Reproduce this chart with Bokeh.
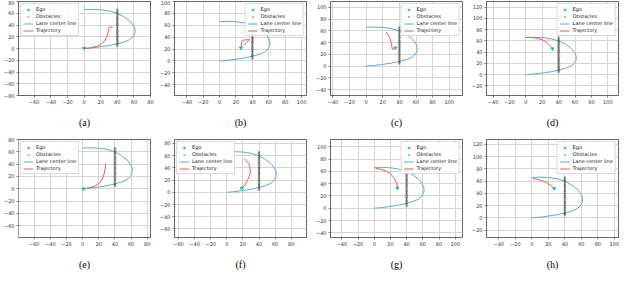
from bokeh.plotting import figure
from bokeh.layouts import row, column
from bokeh.models import FixedTicker, Legend, LegendItem, Range1d
from bokeh.embed import file_html
from bokeh.resources import INLINE

# ---------------- data ----------------
PANEL_LABELS = ["(a)", "(b)", "(c)", "(d)", "(e)", "(f)", "(g)", "(h)"]

LANE_X = [0, 10, 20, 30, 40, 48, 55, 59, 61, 61.5, 61, 59, 55, 48, 40, 30, 20, 10, 0]
LANE_Y = [0, 1.2, 3, 5, 8, 11, 15, 20, 25, 30, 35, 40, 47, 54, 60, 64, 66, 66.5, 66]

OBS_X = [40] * 32
OBS_Y = [4, 6, 8, 10, 12, 14, 16, 18, 20, 22, 24, 26, 28, 30, 32, 34,
         36, 38, 40, 42, 44, 46, 48, 50, 52, 54, 56, 58, 60, 62, 64, 66]

EGO_X = [0, 26, 35, 32.5, 1, 18.5, 28.6, 27]
EGO_Y = [0.5, 22, 31, 46, 0, 7, 33, 48]

TRAJ_A_X = [0, 8, 16, 21, 24, 27, 28.5, 29.5, 30, 32, 34, 35]
TRAJ_A_Y = [0, 1, 4, 8, 12, 19, 25, 31, 36, 36.5, 36, 34.5]
TRAJ_B_X = [26, 26.5, 27, 28, 32, 36.5, 33, 30]
TRAJ_B_Y = [22, 28, 33, 35, 35.5, 36, 31, 26.5]
TRAJ_C_X = [24, 26.5, 28.5, 30.5, 31, 31.5, 33, 35]
TRAJ_C_Y = [58, 53, 47, 38, 32, 28.5, 29.5, 31]
TRAJ_D_X = [0, 7, 14, 20, 25, 29, 31.5, 32.5]
TRAJ_D_Y = [66, 66, 64.5, 62, 58, 52.5, 48.5, 46]
TRAJ_E_X = [1, 8, 16, 21, 24.5, 26.5, 27.8, 28.5]
TRAJ_E_Y = [0, 1.5, 5, 10, 16, 24, 32, 41]
TRAJ_F_X = [19, 22.5, 26, 28.5, 29.3, 28.8, 27.6, 25, 21.5]
TRAJ_F_Y = [7, 12, 21, 28, 34, 40, 46, 51, 55]
TRAJ_G_X = [2, 8, 14, 19, 23, 26, 27.8, 28.6]
TRAJ_G_Y = [65, 63.5, 61, 57, 52, 46, 40, 34]
TRAJ_H_X = [1, 7, 13, 18, 22, 25, 27]
TRAJ_H_Y = [64, 62.8, 60.5, 57.5, 54, 51, 48]

TRAJ_X = [TRAJ_A_X, TRAJ_B_X, TRAJ_C_X, TRAJ_D_X, TRAJ_E_X, TRAJ_F_X, TRAJ_G_X, TRAJ_H_X]
TRAJ_Y = [TRAJ_A_Y, TRAJ_B_Y, TRAJ_C_Y, TRAJ_D_Y, TRAJ_E_Y, TRAJ_F_Y, TRAJ_G_Y, TRAJ_H_Y]

X_LIMITS = [(-79, 80), (-55, 106), (-43, 116), (-48, 113),
            (-79.5, 84), (-65, 99), (-54, 109), (-55, 105)]
Y_LIMITS = [(-80, 80), (-58, 100), (-50, 110), (-37, 130),
            (-79, 80), (-74, 86.5), (-47.6, 112), (-32, 128)]
TICKS = list(range(-100, 141, 20))
LEGEND_LOC = ["top_left", "top_right", "top_right", "top_right",
              "top_left", "top_left", "top_right", "top_right"]

# ---------------- style ----------------
LANE_COLOR = "#62a9d6"
TRAJ_COLOR = "#f05a4e"
EGO_COLOR = "#1bb8d0"
OBS_COLOR = "#3c3c3c"
GRID_COLOR = "#d4d4d4"


def make_panel(i, top_row):
    if top_row:
        h, bt, bb = 130, 1, 33
    else:
        h, bt, bb = 142, 9, 35
    p = figure(width=156, height=h,
               x_range=Range1d(*X_LIMITS[i]), y_range=Range1d(*Y_LIMITS[i]),
               output_backend="svg", toolbar_location=None,
               min_border_left=18, min_border_right=6,
               min_border_top=bt, min_border_bottom=bb)
    p.background_fill_color = "white"
    p.border_fill_color = "white"
    p.outline_line_color = "black"
    p.outline_line_width = 0.6
    p.outline_line_alpha = 1.0

    for ax in (p.xaxis[0], p.yaxis[0]):
        ax.ticker = FixedTicker(ticks=TICKS)
        ax.major_label_text_font_size = "5px"
        ax.major_label_text_font = "DejaVu Sans"
        ax.major_label_text_color = "#333333"
        ax.major_tick_out = 2
        ax.major_tick_in = 0
        ax.major_tick_line_width = 0.5
        ax.minor_tick_line_color = None
        ax.axis_line_color = None
        ax.major_label_standoff = 2
    p.xaxis.axis_label = PANEL_LABELS[i]
    p.xaxis.axis_label_text_font = "Liberation Serif"
    p.xaxis.axis_label_text_font_style = "normal"
    p.xaxis.axis_label_text_font_size = "10px"
    p.xaxis.axis_label_text_color = "black"
    p.xaxis.axis_label_standoff = 10

    p.grid.grid_line_color = GRID_COLOR
    p.grid.grid_line_width = 1

    lane = p.line(LANE_X, LANE_Y, line_color=LANE_COLOR, line_width=1.0)
    obs = p.scatter(OBS_X, OBS_Y, marker="x", size=2.8, line_color=OBS_COLOR,
                    line_width=0.6, line_alpha=0.85)
    traj = p.line(TRAJ_X[i], TRAJ_Y[i], line_color=TRAJ_COLOR, line_width=1.0)
    ego = p.scatter([EGO_X[i]], [EGO_Y[i]], marker="inverted_triangle", size=3,
                    fill_color=EGO_COLOR, line_color=EGO_COLOR)

    legend = Legend(items=[
        LegendItem(label="Ego", renderers=[ego]),
        LegendItem(label="Obstacles", renderers=[obs]),
        LegendItem(label="Lane center line", renderers=[lane]),
        LegendItem(label="Trajectory", renderers=[traj]),
    ], location=LEGEND_LOC[i])
    legend.label_text_font = "DejaVu Sans"
    legend.label_text_font_size = "5px"
    legend.label_text_color = "#222222"
    legend.glyph_width = 10
    legend.glyph_height = 5
    legend.label_height = 5
    legend.label_standoff = 3
    legend.spacing = 1
    legend.padding = 2
    legend.margin = 2
    legend.border_line_color = "#b8b8b8"
    legend.border_line_width = 0.8
    legend.background_fill_color = "white"
    legend.background_fill_alpha = 0.9
    p.add_layout(legend)
    return p


top = [make_panel(i, True) for i in range(4)]
bottom = [make_panel(i, False) for i in range(4, 8)]
layout = column(row(*top), row(*bottom))

open("out.html", "w").write(file_html(layout, INLINE))
